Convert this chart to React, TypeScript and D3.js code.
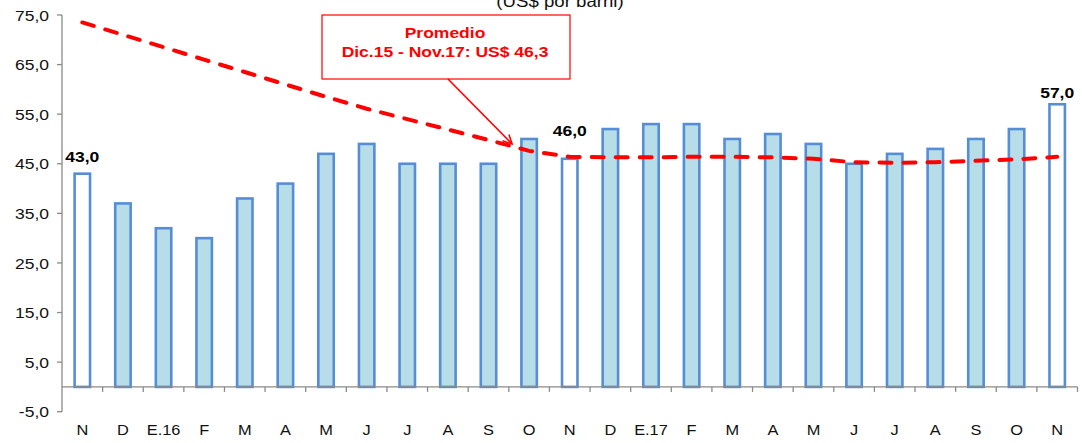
import { useEffect, useRef } from "react";
import * as d3 from "d3";

// month labels, N 2015 -> N 2017
const months = [
  "N", "D", "E.16", "F", "M", "A", "M", "J", "J", "A", "S", "O",
  "N", "D", "E.17", "F", "M", "A", "M", "J", "J", "A", "S", "O", "N",
];

// monthly oil price (US$ per barrel)
const prices = [
  43, 37, 32, 30, 38, 41, 47, 49, 45, 45, 45, 50,
  46, 52, 53, 53, 50, 51, 49, 45, 47, 48, 50, 52, 57,
];

// red dashed average line
const average = [
  73.5, 71.0, 68.5, 66.0, 63.5, 61.0, 58.5, 56.1, 54.0, 51.9, 49.8, 47.6,
  46.4, 46.3, 46.3, 46.4, 46.4, 46.3, 46.0, 45.3, 45.2, 45.3, 45.6, 45.9, 46.4,
];

// bars drawn hollow
const hollow = [0, 12, 24];

// labelled bars: index and text
const valueLabels = [
  { index: 0, text: "43,0" },
  { index: 12, text: "46,0" },
  { index: 24, text: "57,0" },
];
const labelLift: Record<number, number> = { 0: 12, 12: 23, 24: 6 };

const yTicks = [-5, 5, 15, 25, 35, 45, 55, 65, 75];

const FONT = "'Liberation Sans', Arial, sans-serif";
const STRETCH = 1.13;

export default function App() {
  const svgRef = useRef<SVGSVGElement>(null);

  useEffect(() => {
    if (!svgRef.current) return;
    document.body.style.margin = "0";

    const width = 1082;
    const height = 443;
    const left = 62;
    const right = 1077.5;

    const svg = d3.select(svgRef.current);
    svg.selectAll("*").remove();
    svg.attr("width", width).attr("height", height);

    const x = d3
      .scaleBand<number>()
      .domain(months.map((_, i) => i))
      .range([left, right])
      .padding(0);

    const y = d3.scaleLinear().domain([-5, 75]).range([411.7, 15]);

    const cx = (i: number) => (x(i) as number) + x.bandwidth() / 2;
    const barW = x.bandwidth() * 0.38;

    const stretchText = (
      sel: d3.Selection<SVGTextElement, any, any, any>,
      tx: number,
      ty: number,
    ) => sel.attr("transform", `translate(${tx},${ty}) scale(${STRETCH},1)`);

    // bars
    svg
      .append("g")
      .selectAll("rect")
      .data(prices)
      .join("rect")
      .attr("x", (_, i) => cx(i) - barW / 2)
      .attr("y", (d) => y(d))
      .attr("width", barW)
      .attr("height", (d) => y(0) - y(d))
      .attr("fill", (_, i) => (hollow.includes(i) ? "#ffffff" : "#B7DDE8"))
      .attr("stroke", "#558ED5")
      .attr("stroke-width", 2.6);

    // y axis
    const axisColor = "#8a8a8a";
    svg
      .append("line")
      .attr("x1", left)
      .attr("x2", left)
      .attr("y1", y(-5))
      .attr("y2", y(75))
      .attr("stroke", axisColor)
      .attr("stroke-width", 1.3);

    yTicks.forEach((t) => {
      svg
        .append("line")
        .attr("x1", left - 5)
        .attr("x2", left)
        .attr("y1", y(t))
        .attr("y2", y(t))
        .attr("stroke", axisColor)
        .attr("stroke-width", 1.3);
      svg
        .append("text")
        .attr("text-anchor", "end")
        .attr("font-family", FONT)
        .attr("font-size", 15.5)
        .attr("fill", "#111")
        .text(t.toFixed(1).replace(".", ","))
        .call(stretchText, 49, y(t) + 5.6);
    });

    // x axis at zero
    svg
      .append("line")
      .attr("x1", left)
      .attr("x2", right)
      .attr("y1", y(0))
      .attr("y2", y(0))
      .attr("stroke", axisColor)
      .attr("stroke-width", 1.3);

    d3.range(1, months.length + 1).forEach((i) => {
      const bx = left + x.step() * i;
      svg
        .append("line")
        .attr("x1", bx)
        .attr("x2", bx)
        .attr("y1", y(0))
        .attr("y2", y(0) + 5)
        .attr("stroke", axisColor)
        .attr("stroke-width", 1.3);
    });

    months.forEach((m, i) => {
      svg
        .append("text")
        .attr("text-anchor", "middle")
        .attr("font-family", FONT)
        .attr("font-size", 14.5)
        .attr("fill", "#111")
        .text(m)
        .call(stretchText, cx(i), 435);
    });

    // average line
    const line = d3
      .line<number>()
      .x((_, i) => cx(i))
      .y((d) => y(d));

    svg
      .append("path")
      .datum(average)
      .attr("fill", "none")
      .attr("stroke", "#FF0000")
      .attr("stroke-width", 4)
      .attr("stroke-dasharray", "12,12")
      .attr("stroke-linecap", "round")
      .attr("d", line);

    // value labels
    valueLabels.forEach((l) => {
      svg
        .append("text")
        .attr("text-anchor", "middle")
        .attr("font-family", FONT)
        .attr("font-weight", "bold")
        .attr("font-size", 15.5)
        .attr("fill", "#000")
        .text(l.text)
        .call(stretchText, cx(l.index), y(prices[l.index]) - labelLift[l.index]);
    });

    // title (cut at the top)
    svg
      .append("text")
      .attr("text-anchor", "middle")
      .attr("font-family", FONT)
      .attr("font-size", 16.5)
      .attr("fill", "#111")
      .text("(US$ por barril)")
      .call(stretchText, 560, 6.5);

    // annotation box
    const box = { x: 322, y: 15, w: 248, h: 64 };
    svg
      .append("rect")
      .attr("x", box.x)
      .attr("y", box.y)
      .attr("width", box.w)
      .attr("height", box.h)
      .attr("fill", "#fff")
      .attr("stroke", "#FF0000")
      .attr("stroke-width", 1.2);

    ["Promedio", "Dic.15 - Nov.17: US$ 46,3"].forEach((t, i) => {
      svg
        .append("text")
        .attr("text-anchor", "middle")
        .attr("font-family", FONT)
        .attr("font-weight", "bold")
        .attr("font-size", 15.5)
        .attr("fill", "#FF0000")
        .text(t)
        .call(stretchText, box.x + box.w / 2 - 1, 37.5 + i * 19.3);
    });

    // arrow from box to the average line
    svg
      .append("defs")
      .append("marker")
      .attr("id", "arrowhead")
      .attr("viewBox", "0 0 10 10")
      .attr("refX", 9)
      .attr("refY", 5)
      .attr("markerWidth", 7)
      .attr("markerHeight", 7)
      .attr("markerUnits", "strokeWidth")
      .attr("orient", "auto")
      .append("path")
      .attr("d", "M1,1 L9,5 L1,9")
      .attr("fill", "none")
      .attr("stroke", "#FF0000")
      .attr("stroke-width", 1.4);

    const tipX = cx(11) - x.step() * 0.42;
    const tipY = y(49);
    svg
      .append("line")
      .attr("x1", box.x + 126)
      .attr("y1", box.y + box.h)
      .attr("x2", tipX)
      .attr("y2", tipY)
      .attr("stroke", "#FF0000")
      .attr("stroke-width", 1.6)
      .attr("marker-end", "url(#arrowhead)");
  }, []);

  return <svg ref={svgRef} style={{ display: "block" }}></svg>;
}
